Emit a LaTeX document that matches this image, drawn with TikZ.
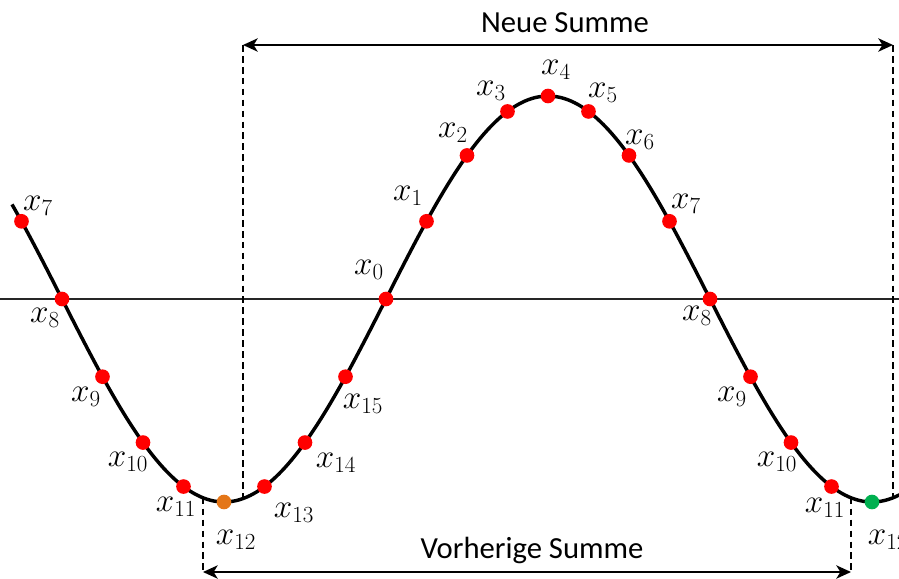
\documentclass[tikz,border=0pt]{standalone}
\usepackage{fontspec}
\newfontfamily\calfont{Carlito}
\usetikzlibrary{arrows.meta}
\definecolor{dotred}{RGB}{255,0,0}
\definecolor{dotorange}{RGB}{228,118,24}
\definecolor{dotgreen}{RGB}{0,176,80}
\begin{document}
\begin{tikzpicture}[x=0.75pt,y=-0.75pt,
  dot/.style={circle,fill=#1,inner sep=0pt,minimum size=11pt},
  lbl/.style={font=\fontsize{23}{26}\selectfont,inner sep=0pt},
  curve/.style={line width=2.6pt},
  axis/.style={line width=1.1pt,black!85},
  guide/.style={line width=1.1pt,dash pattern=on 5pt off 3.2pt},
  span/.style={line width=1.3pt,{Stealth[length=11pt,width=10pt,inset=3pt]}-{Stealth[length=11pt,width=10pt,inset=3pt]}},
  title/.style={font=\calfont\fontsize{23}{26}\selectfont,inner sep=0pt}]
\useasboundingbox (0,0) rectangle (899,578);
\begin{scope}
\clip (0,0) rectangle (899,578);
\draw[axis] (0,299) -- (899,299);
\draw[curve] plot[domain=12:910,samples=250,smooth] (\x,{299-203*sin(0.5555556*(\x-386))});
% guide lines
\coordinate (tl) at (243,45);
\coordinate (tr) at (893,45);
\coordinate (bl) at (203,572);
\coordinate (br) at (851,572);
\coordinate (tlc) at (243,498.6);
\coordinate (trc) at (893,497.8);
\coordinate (blc) at (203,497.8);
\coordinate (brc) at (851,497.8);
\draw[guide] (tl) -- (tlc);
\draw[guide] (tr) -- (trc);
\draw[guide] (blc) -- (bl);
\draw[guide] (brc) -- (br);
\draw[span] (tl) -- (tr);
\draw[span] (bl) -- (br);
% dots
\foreach \k/\c in {-9/dotred,-8/dotred,-7/dotred,-6/dotred,-5/dotred,-4/dotorange,-3/dotred,-2/dotred,-1/dotred,0/dotred,1/dotred,2/dotred,3/dotred,4/dotred,5/dotred,6/dotred,7/dotred,8/dotred,9/dotred,10/dotred,11/dotred,12/dotgreen}
  \node[dot=\c] (p\k) at ({386+40.5*\k},{299-203*sin(22.5*\k)}) {};
% labels
\node[lbl] (l-9) at (38,206) {$x_{7}$};
\node[lbl] (l-8) at (45,318) {$x_{8}$};
\node[lbl] (l-7) at (86,397) {$x_{9}$};
\node[lbl] (l-6) at (128,462) {$x_{10}$};
\node[lbl] (l-5) at (176,507) {$x_{11}$};
\node[lbl] (l-4) at (236,540) {$x_{12}$};
\node[lbl] (l-3) at (294,513) {$x_{13}$};
\node[lbl] (l-2) at (336,463) {$x_{14}$};
\node[lbl] (l-1) at (363,404) {$x_{15}$};
\node[lbl] (l0) at (369,270) {$x_{0}$};
\node[lbl] (l1) at (408,196) {$x_{1}$};
\node[lbl] (l2) at (453,133) {$x_{2}$};
\node[lbl] (l3) at (491,91) {$x_{3}$};
\node[lbl] (l4) at (556,70) {$x_{4}$};
\node[lbl] (l5) at (603,93) {$x_{5}$};
\node[lbl] (l6) at (640,140) {$x_{6}$};
\node[lbl] (l7) at (686,204) {$x_{7}$};
\node[lbl] (l8) at (697,316) {$x_{8}$};
\node[lbl] (l9) at (732,397) {$x_{9}$};
\node[lbl] (l10) at (777,462) {$x_{10}$};
\node[lbl] (l11) at (825,508) {$x_{11}$};
\node[lbl] (l12) at (888,540) {$x_{12}$};
\end{scope}
\node[title] (neu) at (565,23) {Neue Summe};
\node[title] (vor) at (532,550) {Vorherige Summe};
\end{tikzpicture}
\end{document}
